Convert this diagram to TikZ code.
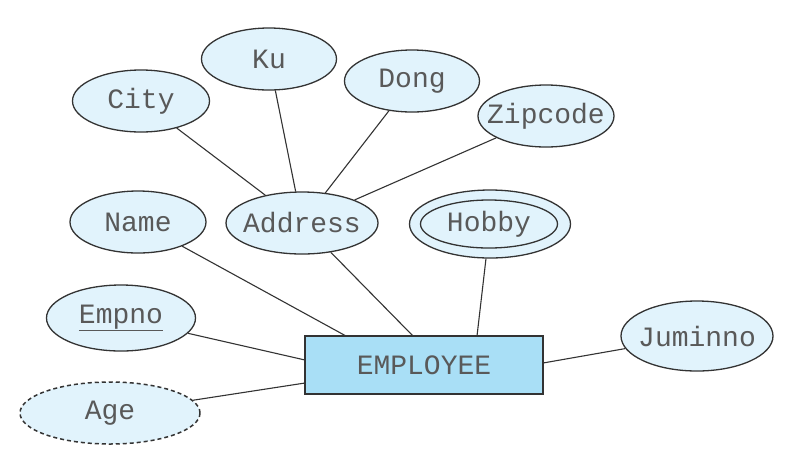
\documentclass[tikz,border=0pt]{standalone}
\usepackage{fontspec}
\setmonofont{Liberation Mono}
\usetikzlibrary{shapes.geometric}
\definecolor{attrfill}{HTML}{E1F3FC}
\definecolor{entfill}{HTML}{A9DFF6}
\definecolor{edge}{HTML}{333333}
\newcommand{\zb}[1]{\makebox[0pt]{#1}}
\tikzset{
  attr/.style={ellipse, draw=edge, line width=1.3pt, fill=attrfill, inner sep=0pt,
    font=\ttfamily\fontsize{28}{28}\selectfont, text=black!65},
  ent/.style={rectangle, draw=edge, line width=2.4pt, fill=entfill, inner sep=0pt,
    font=\ttfamily\fontsize{28}{28}\selectfont, text=black!65},
  link/.style={draw=edge, line width=1.1pt}
}
\begin{document}
\begin{tikzpicture}[x=1pt,y=-1pt]
\useasboundingbox[fill=white] (0,0) rectangle (800,451);
\node[attr, minimum width=135pt, minimum height=62pt] (ku) at (269,59) {\zb{Ku}};
\node[attr, minimum width=137pt, minimum height=62pt] (city) at (141,101) {\zb{City}};
\node[attr, minimum width=135pt, minimum height=62pt] (dong) at (412,81) {\zb{Dong}};
\node[attr, minimum width=136pt, minimum height=62pt] (zip) at (546,116) {\zb{Zipcode}};
\node[attr, minimum width=136pt, minimum height=62pt] (name) at (138,222) {\zb{Name}};
\node[attr, minimum width=152pt, minimum height=62pt] (addr) at (302,223) {\zb{Address}};
\node[attr, minimum width=161pt, minimum height=68pt] (hobbyout) at (490,224) {};
\node[attr, minimum width=137pt, minimum height=48pt] (hobby) at (489,224) {\zb{Hobby}};
\node[attr, minimum width=149pt, minimum height=66pt] (empno) at (121,318) {\zb{\underline{Empno}}};
\node[attr, dash pattern=on 4pt off 3pt, line width=1.5pt, minimum width=180pt, minimum height=62pt] (age) at (110,413) {\zb{Age}};
\node[attr, minimum width=152pt, minimum height=70pt] (jumin) at (697,336) {\zb{Juminno}};
\node[ent, minimum width=238pt, minimum height=58pt] (emp) at (424,365) {\zb{EMPLOYEE}};
\coordinate (eName) at (346,336);
\coordinate (eAddr) at (413,336);
\coordinate (eHob) at (477,336);
\coordinate (eEmp) at (305,360);
\coordinate (eAge) at (305,383);
\coordinate (eJum) at (543,363);
\draw[link] (city) -- (addr);
\draw[link] (ku) -- (addr);
\draw[link] (dong) -- (addr);
\draw[link] (zip) -- (addr);
\draw[link] (name) -- (eName);
\draw[link] (addr) -- (eAddr);
\draw[link] (hobbyout) -- (eHob);
\draw[link] (empno) -- (eEmp);
\draw[link] (age) -- (eAge);
\draw[link] (jumin) -- (eJum);
\end{tikzpicture}
\end{document}
